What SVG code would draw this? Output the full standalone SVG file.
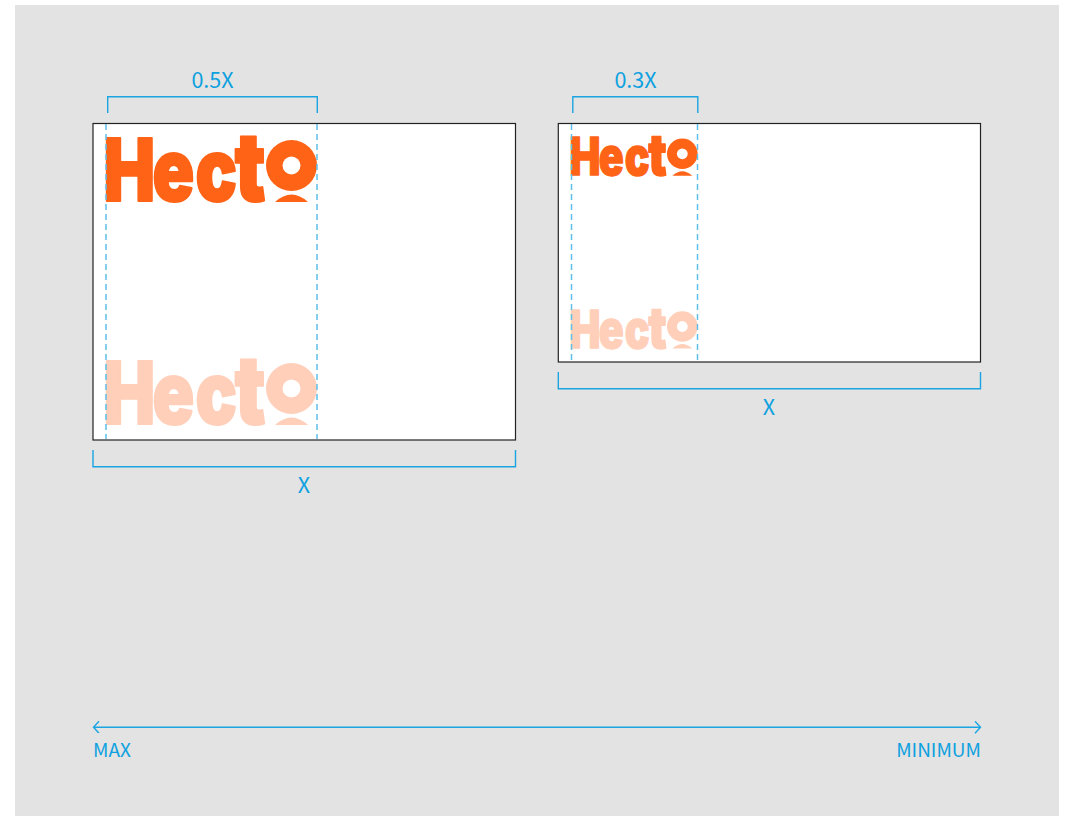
<svg xmlns="http://www.w3.org/2000/svg" width="1065" height="816" viewBox="0 0 1065 816">
<style>
.lbl{font-family:"Noto Sans CJK KR","Noto Sans",sans-serif;fill:#0ea1e0;font-size:21.500px}
.sm{font-size:19px}
.m{text-anchor:middle}
.br{fill:none;stroke:#1aa5e2;stroke-width:1.400}
.dash{fill:none;stroke:#5fbfe8;stroke-width:1.500;stroke-dasharray:6 4}
.frame{fill:#fff;stroke:#222;stroke-width:1.200}
.wm{font-family:Inter,"Liberation Sans",sans-serif;font-weight:900;font-size:86px;stroke-width:2.200;stroke-linejoin:round}
.on{fill:#ff6316;stroke:#ff6316}
.pale{fill:#ffcfb9;stroke:#ffcfb9}
.ns{stroke:none}
</style>
<defs>
<g id="logo">
<text class="wm" transform="scale(.8 1)" y="63"><tspan x="-3">H</tspan><tspan x="58">e</tspan><tspan x="112">c</tspan><tspan x="161" font-size="96">t</tspan><tspan x="210" y="46" font-size="70">o</tspan></text>
<circle class="ns" cx="185.500" cy="27.500" r="25.500"/>
<circle class="ns" cx="185.500" cy="27.500" r="9" fill="#fff"/>
<path class="ns" d="M169 64Q185.500 49 202 64Z"/>
</g>
<marker id="chev" markerWidth="10" markerHeight="14" refX="7" refY="6" orient="auto-start-reverse" markerUnits="userSpaceOnUse"><path d="M2 0L7.500 6L2 12" fill="none" stroke="#1aa5e2" stroke-width="1.400"/></marker>
</defs>
<rect x="15" y="5" width="1044" height="811" fill="#e3e3e3"/>
<g id="panel-large">
<rect class="frame" x="93" y="123.500" width="422.500" height="316.500"/>
<use href="#logo" class="on" transform="translate(106 138)"/>
<use href="#logo" class="pale" transform="translate(106 361)"/>
<path class="dash" d="M106 124V439M317 124V439"/>
<path class="br" d="M107.700 113V96.800H317.300V113"/>
<text class="lbl m" x="212.500" y="88">0.5X</text>
<path class="br" d="M93 450V466.800H515.500V450"/>
<text class="lbl m" x="304" y="492.500">X</text>
</g>
<g id="panel-small">
<rect class="frame" x="558.300" y="123.500" width="422.200" height="238.500"/>
<use href="#logo" class="on" transform="translate(571 137.300) scale(.6)"/>
<use href="#logo" class="pale" transform="translate(571 310) scale(.6)"/>
<path class="dash" d="M571.500 124V361M697.500 124V361"/>
<path class="br" d="M572.800 113V96.800H697.800V113"/>
<text class="lbl m" x="635.500" y="88">0.3X</text>
<path class="br" d="M558.300 372V388.800H980.500V372"/>
<text class="lbl m" x="769" y="414.500">X</text>
</g>
<g id="connectors">
<path class="br" d="M94 727.300H980" marker-start="url(#chev)" marker-end="url(#chev)"/>
</g>
<g id="scale-labels">
<text class="lbl sm" x="93" y="756.500">MAX</text>
<text class="lbl sm" x="981" y="756.500" text-anchor="end">MINIMUM</text>
</g>
</svg>
